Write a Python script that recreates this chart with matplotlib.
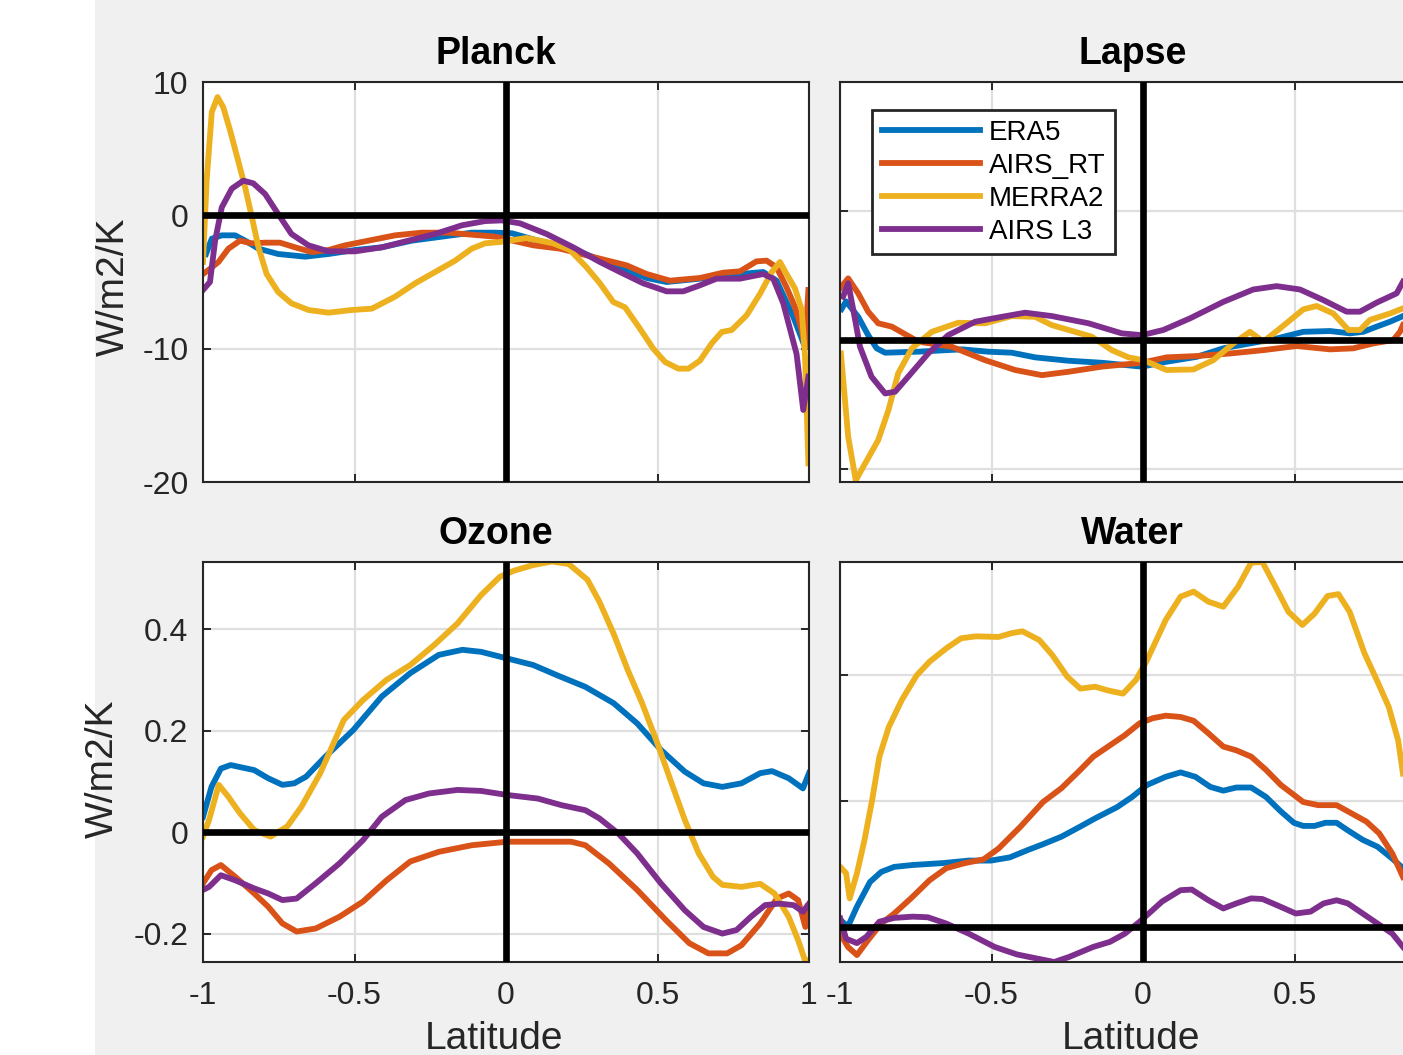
import matplotlib
matplotlib.use("Agg")
import matplotlib.pyplot as plt
from matplotlib.patches import Rectangle

plt.rcParams['font.family'] = ['Liberation Sans', 'DejaVu Sans']

series_names = ['ERA5', 'AIRS_RT', 'MERRA2', 'AIRS L3']
series_colors = ['#0072BD', '#D95319', '#EDB120', '#7E2F8E']

# ---------------- Planck ----------------
planck_era5_lat = [-0.99, -0.971, -0.938, -0.894, -0.861, -0.817, -0.752, -0.663, -0.586, -0.498,
                   -0.410, -0.311, -0.212, -0.113, -0.036, 0.02, 0.09, 0.23, 0.354, 0.464,
                   0.53, 0.64, 0.75, 0.849, 0.893, 0.948, 0.987, 0.998]
planck_era5_val = [-2.9, -1.75, -1.5, -1.5, -1.9, -2.5, -2.9, -3.1, -2.9, -2.6,
                   -2.4, -1.9, -1.6, -1.3, -1.3, -1.35, -1.8, -2.6, -3.75, -4.7,
                   -5.0, -4.75, -4.45, -4.25, -4.9, -7.6, -9.9, -8.75]

planck_airsrt_lat = [-1.0, -0.982, -0.949, -0.916, -0.878, -0.839, -0.795, -0.746, -0.696, -0.641,
                     -0.586, -0.531, -0.454, -0.366, -0.278, -0.190, -0.113, -0.036, 0.09, 0.178,
                     0.266, 0.354, 0.398, 0.464, 0.541, 0.640, 0.717, 0.772, 0.827, 0.860,
                     0.893, 0.926, 0.954, 0.976, 0.987, 0.998]
planck_airsrt_val = [-4.4, -4.1, -3.5, -2.5, -1.9, -2.1, -2.05, -2.05, -2.4, -2.75,
                     -2.6, -2.25, -1.9, -1.5, -1.3, -1.3, -1.45, -1.6, -2.25, -2.5,
                     -3.0, -3.5, -3.75, -4.4, -4.9, -4.7, -4.3, -4.2, -3.45, -3.4,
                     -3.9, -5.4, -6.9, -8.6, -9.9, -5.6]

planck_merra2_lat = [-1.0, -0.988, -0.971, -0.952, -0.933, -0.911, -0.884, -0.861, -0.839, -0.817,
                     -0.790, -0.752, -0.708, -0.652, -0.586, -0.509, -0.443, -0.366, -0.300, -0.234,
                     -0.168, -0.113, -0.069, -0.02, 0.068, 0.156, 0.211, 0.266, 0.310, 0.354,
                     0.393, 0.442, 0.486, 0.525, 0.569, 0.602, 0.640, 0.679, 0.712, 0.745,
                     0.794, 0.838, 0.877, 0.904, 0.926, 0.954, 0.976, 0.987, 0.998]
planck_merra2_val = [-3.5, 2.6, 7.75, 8.87, 8.1, 6.4, 4.1, 2.1, -0.1, -2.4,
                     -4.4, -5.75, -6.6, -7.1, -7.3, -7.1, -7.0, -6.1, -5.1, -4.25,
                     -3.4, -2.5, -2.1, -2.0, -1.7, -2.1, -2.6, -3.9, -5.1, -6.5,
                     -6.9, -8.5, -10.0, -11.0, -11.5, -11.5, -10.9, -9.6, -8.75, -8.6,
                     -7.5, -5.9, -4.25, -3.5, -4.4, -5.5, -7.1, -10.6, -18.6]

planck_airsl3_lat = [-1.0, -0.977, -0.96, -0.938, -0.905, -0.867, -0.834, -0.795, -0.752, -0.708,
                     -0.652, -0.586, -0.498, -0.410, -0.322, -0.234, -0.146, -0.069, -0.014, 0.046,
                     0.134, 0.222, 0.31, 0.376, 0.453, 0.530, 0.585, 0.640, 0.695, 0.772,
                     0.849, 0.882, 0.915, 0.959, 0.981, 0.998]
planck_airsl3_val = [-5.6, -5.0, -1.9, 0.6, 2.0, 2.6, 2.4, 1.6, 0.1, -1.4,
                     -2.25, -2.7, -2.7, -2.4, -1.9, -1.4, -0.75, -0.43, -0.38, -0.6,
                     -1.4, -2.4, -3.5, -4.25, -5.1, -5.7, -5.7, -5.25, -4.75, -4.75,
                     -4.4, -4.75, -6.6, -10.4, -14.6, -12.1]

# ---------------- Lapse ----------------
lapse_era5_lat = [-0.995, -0.98, -0.94, -0.907, -0.879, -0.851, -0.742, -0.598, -0.511, -0.433,
                  -0.356, -0.247, -0.136, -0.004, 0.078, 0.177, 0.265, 0.353, 0.441, 0.529,
                  0.617, 0.683, 0.727, 0.771, 0.815, 0.858]
lapse_era5_val = [1.2, 1.5, 0.9, 0.19, -0.32, -0.49, -0.45, -0.36, -0.45, -0.49,
                  -0.67, -0.8, -0.88, -1.03, -0.84, -0.65, -0.32, -0.13, 0.06, 0.32,
                  0.35, 0.26, 0.32, 0.52, 0.71, 0.93]

lapse_airsrt_lat = [-1.0, -0.973, -0.94, -0.907, -0.874, -0.829, -0.742, -0.631, -0.521, -0.422,
                    -0.334, -0.247, -0.136, -0.004, 0.078, 0.177, 0.287, 0.397, 0.507, 0.617,
                    0.694, 0.760, 0.826, 0.848, 0.858]
lapse_airsrt_val = [2.0, 2.39, 1.81, 1.1, 0.65, 0.52, -0.06, -0.26, -0.78, -1.16,
                    -1.36, -1.23, -1.03, -0.88, -0.67, -0.62, -0.52, -0.39, -0.23, -0.36,
                    -0.32, -0.13, 0.0, 0.32, 0.58]

lapse_merra2_lat = [-0.997, -0.973, -0.948, -0.917, -0.874, -0.840, -0.808, -0.763, -0.697, -0.610,
                    -0.521, -0.433, -0.356, -0.301, -0.169, -0.103, -0.048, 0.001, 0.078, 0.166,
                    0.232, 0.298, 0.353, 0.397, 0.452, 0.529, 0.573, 0.628, 0.678, 0.716,
                    0.749, 0.815, 0.858]
lapse_merra2_val = [-0.52, -3.75, -5.43, -4.78, -3.88, -2.71, -1.29, -0.32, 0.32, 0.67,
                    0.65, 0.93, 0.9, 0.58, 0.13, -0.39, -0.67, -0.78, -1.16, -1.14,
                    -0.78, -0.13, 0.32, -0.06, 0.45, 1.19, 1.32, 1.03, 0.39, 0.39,
                    0.78, 1.03, 1.23]

lapse_airsl3_lat = [-0.99, -0.973, -0.956, -0.934, -0.896, -0.851, -0.818, -0.775, -0.709, -0.643,
                    -0.554, -0.466, -0.389, -0.301, -0.180, -0.070, -0.004, 0.067, 0.155, 0.265,
                    0.364, 0.441, 0.518, 0.595, 0.672, 0.716, 0.771, 0.837, 0.858]
lapse_airsl3_val = [1.68, 2.2, 1.16, -0.26, -1.42, -2.07, -2.0, -1.42, -0.52, 0.19,
                    0.71, 0.9, 1.06, 0.93, 0.65, 0.26, 0.19, 0.39, 0.84, 1.48,
                    1.96, 2.09, 1.96, 1.55, 1.1, 1.1, 1.45, 1.81, 2.26]

# ---------------- Ozone ----------------
ozone_era5_lat = [-1.0, -0.972, -0.941, -0.909, -0.831, -0.785, -0.738, -0.699, -0.660, -0.597,
                  -0.504, -0.410, -0.316, -0.222, -0.144, -0.082, 0.004, 0.090, 0.168, 0.262,
                  0.355, 0.433, 0.511, 0.590, 0.652, 0.714, 0.777, 0.839, 0.878, 0.933,
                  0.980, 1.0]
ozone_era5_val = [0.03, 0.089, 0.125, 0.132, 0.122, 0.106, 0.093, 0.096, 0.109, 0.148,
                  0.201, 0.267, 0.313, 0.349, 0.359, 0.355, 0.342, 0.329, 0.309, 0.286,
                  0.254, 0.214, 0.162, 0.119, 0.096, 0.089, 0.096, 0.116, 0.12, 0.106,
                  0.086, 0.116]

ozone_airsrt_lat = [-1.0, -0.972, -0.941, -0.894, -0.831, -0.785, -0.738, -0.691, -0.628, -0.550,
                    -0.472, -0.394, -0.316, -0.222, -0.113, 0.004, 0.121, 0.215, 0.262, 0.340,
                    0.433, 0.527, 0.605, 0.668, 0.730, 0.777, 0.839, 0.894, 0.933, 0.964,
                    0.988, 0.995]
ozone_airsrt_val = [-0.101, -0.075, -0.065, -0.088, -0.121, -0.147, -0.18, -0.196, -0.19, -0.167,
                    -0.137, -0.095, -0.058, -0.039, -0.026, -0.019, -0.019, -0.019, -0.026, -0.062,
                    -0.114, -0.173, -0.219, -0.239, -0.239, -0.223, -0.18, -0.131, -0.121, -0.134,
                    -0.187, -0.147]

ozone_merra2_lat = [-1.0, -0.980, -0.948, -0.917, -0.878, -0.831, -0.777, -0.722, -0.675, -0.613,
                    -0.535, -0.472, -0.394, -0.316, -0.238, -0.160, -0.082, -0.020, 0.027, 0.090,
                    0.152, 0.207, 0.269, 0.308, 0.355, 0.402, 0.449, 0.496, 0.543, 0.590,
                    0.636, 0.683, 0.714, 0.777, 0.839, 0.886, 0.933, 0.964, 0.988, 1.0]
ozone_merra2_val = [-0.009, 0.024, 0.093, 0.07, 0.037, 0.004, -0.009, 0.011, 0.05, 0.116,
                    0.221, 0.26, 0.3, 0.329, 0.368, 0.411, 0.467, 0.503, 0.515, 0.526,
                    0.533, 0.528, 0.497, 0.454, 0.391, 0.319, 0.254, 0.181, 0.102, 0.024,
                    -0.042, -0.088, -0.104, -0.108, -0.102, -0.121, -0.167, -0.213, -0.255, -0.252]

ozone_airsl3_lat = [-1.0, -0.980, -0.941, -0.894, -0.831, -0.785, -0.738, -0.691, -0.628, -0.550,
                    -0.472, -0.410, -0.332, -0.254, -0.160, -0.082, 0.004, 0.105, 0.183, 0.262,
                    0.308, 0.371, 0.433, 0.511, 0.590, 0.652, 0.714, 0.761, 0.808, 0.855,
                    0.902, 0.949, 0.980, 1.0]
ozone_airsl3_val = [-0.114, -0.108, -0.085, -0.095, -0.111, -0.121, -0.134, -0.131, -0.101, -0.062,
                    -0.016, 0.03, 0.063, 0.076, 0.083, 0.081, 0.073, 0.066, 0.053, 0.043,
                    0.027, -0.003, -0.042, -0.101, -0.154, -0.187, -0.2, -0.193, -0.167, -0.144,
                    -0.141, -0.144, -0.157, -0.141]

# ---------------- Water ----------------
water_era5_lat = [-0.999, -0.974, -0.944, -0.901, -0.864, -0.821, -0.760, -0.661, -0.575, -0.502,
                  -0.440, -0.379, -0.330, -0.269, -0.207, -0.158, -0.085, -0.036, 0.013, 0.075,
                  0.124, 0.173, 0.222, 0.265, 0.308, 0.357, 0.406, 0.455, 0.498, 0.529,
                  0.566, 0.602, 0.639, 0.676, 0.725, 0.774, 0.823, 0.858]
water_era5_val = [0.011, 0.0, 0.032, 0.071, 0.087, 0.095, 0.098, 0.101, 0.105, 0.105,
                  0.110, 0.122, 0.131, 0.143, 0.159, 0.172, 0.190, 0.206, 0.225, 0.238,
                  0.245, 0.238, 0.222, 0.216, 0.221, 0.221, 0.206, 0.183, 0.165, 0.160,
                  0.160, 0.165, 0.165, 0.153, 0.138, 0.127, 0.108, 0.093]

water_airsrt_lat = [-0.999, -0.974, -0.944, -0.907, -0.864, -0.821, -0.766, -0.704, -0.649, -0.588,
                    -0.526, -0.477, -0.404, -0.330, -0.269, -0.207, -0.164, -0.109, -0.060, -0.011,
                    0.032, 0.075, 0.124, 0.167, 0.216, 0.265, 0.308, 0.357, 0.406, 0.455,
                    0.529, 0.578, 0.639, 0.688, 0.737, 0.780, 0.823, 0.858]
water_airsrt_val = [-0.011, -0.032, -0.045, -0.021, 0.005, 0.021, 0.045, 0.074, 0.093, 0.101,
                    0.107, 0.124, 0.159, 0.198, 0.220, 0.249, 0.270, 0.288, 0.304, 0.323,
                    0.331, 0.335, 0.333, 0.327, 0.307, 0.286, 0.280, 0.270, 0.249, 0.225,
                    0.198, 0.193, 0.193, 0.180, 0.167, 0.148, 0.116, 0.079]

water_merra2_lat = [-0.999, -0.980, -0.968, -0.944, -0.919, -0.894, -0.870, -0.839, -0.796, -0.747,
                    -0.704, -0.649, -0.600, -0.551, -0.477, -0.434, -0.398, -0.342, -0.299, -0.250,
                    -0.207, -0.158, -0.115, -0.066, -0.023, 0.013, 0.075, 0.124, 0.167, 0.216,
                    0.265, 0.314, 0.357, 0.394, 0.437, 0.480, 0.526, 0.566, 0.609, 0.645,
                    0.682, 0.731, 0.774, 0.811, 0.842, 0.858]
water_merra2_val = [0.095, 0.085, 0.045, 0.085, 0.138, 0.201, 0.270, 0.317, 0.360, 0.399,
                    0.421, 0.442, 0.458, 0.461, 0.460, 0.466, 0.469, 0.455, 0.431, 0.397,
                    0.378, 0.381, 0.375, 0.370, 0.392, 0.423, 0.487, 0.524, 0.532, 0.516,
                    0.508, 0.540, 0.578, 0.579, 0.540, 0.500, 0.479, 0.497, 0.525, 0.528,
                    0.500, 0.434, 0.389, 0.349, 0.296, 0.243]

water_airsl3_lat = [-0.999, -0.980, -0.944, -0.913, -0.870, -0.821, -0.760, -0.710, -0.649, -0.575,
                    -0.490, -0.416, -0.355, -0.293, -0.244, -0.164, -0.109, -0.060, -0.011, 0.063,
                    0.124, 0.161, 0.216, 0.265, 0.308, 0.357, 0.394, 0.443, 0.504, 0.553,
                    0.596, 0.639, 0.676, 0.725, 0.774, 0.823, 0.858]
water_airsl3_val = [0.013, -0.019, -0.026, -0.016, 0.008, 0.014, 0.016, 0.015, 0.005, -0.011,
                    -0.032, -0.044, -0.050, -0.056, -0.048, -0.032, -0.024, -0.011, 0.008, 0.040,
                    0.058, 0.059, 0.042, 0.029, 0.037, 0.045, 0.044, 0.034, 0.021, 0.024,
                    0.037, 0.042, 0.037, 0.021, 0.005, -0.011, -0.032]

panels = [
    ('Planck', [(planck_era5_lat, planck_era5_val), (planck_airsrt_lat, planck_airsrt_val),
                (planck_merra2_lat, planck_merra2_val), (planck_airsl3_lat, planck_airsl3_val)]),
    ('Lapse', [(lapse_era5_lat, lapse_era5_val), (lapse_airsrt_lat, lapse_airsrt_val),
               (lapse_merra2_lat, lapse_merra2_val), (lapse_airsl3_lat, lapse_airsl3_val)]),
    ('Ozone', [(ozone_era5_lat, ozone_era5_val), (ozone_airsrt_lat, ozone_airsrt_val),
               (ozone_merra2_lat, ozone_merra2_val), (ozone_airsl3_lat, ozone_airsl3_val)]),
    ('Water', [(water_era5_lat, water_era5_val), (water_airsrt_lat, water_airsrt_val),
               (water_merra2_lat, water_merra2_val), (water_airsl3_lat, water_airsl3_val)]),
]

y_limits = {'Planck': (-20, 10), 'Lapse': (-5.5, 10), 'Ozone': (-0.256, 0.532), 'Water': (-0.056, 0.579)}
y_ticks = {'Planck': [-20, -10, 0, 10], 'Lapse': [-5, 0, 5, 10],
           'Ozone': [-0.2, 0, 0.2, 0.4], 'Water': [0, 0.2, 0.4]}
y_ticklabels = {'Planck': ['-20', '-10', '0', '10'], 'Ozone': ['-0.2', '0', '0.2', '0.4']}
x_ticks = [-1, -0.5, 0, 0.5, 1]
x_ticklabels_left = ['-1', '-0.5', '0', '0.5', '1']
x_ticklabels_right = ['-1', '-0.5', '0', '0.5', '']   # the x=1 label falls past the figure edge

W, H = 1403, 1055
fig = plt.figure(figsize=(W / 100, H / 100), dpi=100, facecolor='#f0f0f0')
fig.add_artist(Rectangle((0, 0), 95 / W, 1, transform=fig.transFigure,
                         facecolor='white', edgecolor='none', zorder=-10))

ax_w = 606 / W
ax_h = 400 / H
lefts = [203 / W, 840 / W]
bottoms = [(H - 482) / H, (H - 962) / H]

ink = '#262626'
for i, (name, data) in enumerate(panels):
    row, col = divmod(i, 2)
    ax = fig.add_axes([lefts[col], bottoms[row], ax_w, ax_h])
    lines = []
    for (lat, val), color, label in zip(data, series_colors, series_names):
        ln, = ax.plot(lat, val, color=color, lw=4.2, label=label, solid_joinstyle='round', zorder=2)
        lines.append(ln)
    ax.axhline(0, color='black', lw=4.8, zorder=3)
    ax.axvline(0, color='black', lw=4.8, zorder=3)
    ax.set_xlim(-1, 1)
    ax.set_ylim(*y_limits[name])
    ax.set_xticks(x_ticks)
    ax.set_yticks(y_ticks[name])
    if row == 1:
        ax.set_xticklabels(x_ticklabels_left if col == 0 else x_ticklabels_right)
        ax.set_xlabel('Latitude', fontsize=28, color=ink)
        ax.xaxis.set_label_coords(0.48, -0.148)
    else:
        ax.set_xticklabels([])
    if col == 0:
        ax.set_yticklabels(y_ticklabels[name])
        ax.set_ylabel('W/m2/K', fontsize=28, color=ink)
        ax.yaxis.set_label_coords(-0.117 if row == 0 else -0.135, 0.487 if row == 0 else 0.482)
    else:
        ax.set_yticklabels([])
    ax.grid(True, color='#dfdfdf', lw=1.6)
    ax.set_axisbelow(True)
    ax.tick_params(direction='in', length=6, width=1.4, top=True, right=True,
                   colors=ink, labelsize=23)
    ax.tick_params(axis='x', pad=13.5)
    ax.tick_params(axis='y', pad=10.4)
    for sp in ax.spines.values():
        sp.set_color(ink)
        sp.set_linewidth(1.5)
    ax.set_title(name, fontsize=27, fontweight='bold', x=0.483, pad=13, color='black')
    if name == 'Lapse':
        leg = ax.legend(handles=lines, loc='upper left', bbox_to_anchor=(0.0528, 0.93),
                        borderaxespad=0, fontsize=20, frameon=True, fancybox=False,
                        edgecolor=ink, framealpha=1, handlelength=3.55, handletextpad=0.3,
                        labelspacing=0.25, borderpad=0.35)
        leg.get_frame().set_linewidth(2)
        for h in leg.get_lines():
            h.set_linewidth(4.2)

fig.savefig('out.png', dpi=100, facecolor=fig.get_facecolor())
